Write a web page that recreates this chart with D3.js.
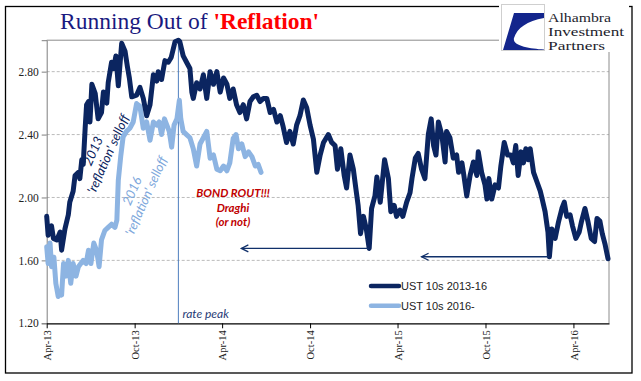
<!DOCTYPE html>
<html><head><meta charset="utf-8">
<script src="https://cdn.jsdelivr.net/npm/d3@7"></script>
<style>body{margin:0;background:#fff}svg{display:block}</style>
</head><body><svg id="c" width="641" height="381"></svg>
<script>
// ---- data ----
const seriesStart = "2013-04-01"; // x values are day offsets from this date
const darkName = "UST 10s 2013-16";
const lightName = "UST 10s 2016-";
const darkDays = [0,3,10,14,21,28,31,38,45,48,55,59,66,69,73,76,80,83,87,90,94,101,107,114,118,125,128,135,139,144,149,156,163,168,172,177,187,194,201,208,215,222,229,232,239,246,253,259,267,274,277,284,291,298,302,305,312,319,326,333,340,347,354,361,368,375,381,388,395,402,409,416,423,430,437,444,451,458,465,472,479,486,492,499,506,513,520,527,534,541,548,555,562,569,576,586,593,600,605,612,619,624,631,638,644,648,653,659,665,671,676,683,687,694,703,711,716,723,728,735,741,749,756,760,767,773,780,787,794,800,805,810,815,822,829,832,839,846,853,857,864,868,874,881,888,895,898,905,912,916,920,926,933,940,945,952,959,966,971,976,981,987,992,997,1002,1006,1013,1020,1027,1031,1037,1043,1046,1051,1058,1065,1072,1077,1082,1089,1094,1101,1108,1113,1120,1126,1133,1140,1145,1151,1156,1162,1168];
const darkVals = [1.88,1.76,1.82,1.74,1.73,1.78,1.665,1.80,1.89,1.97,2.04,2.14,2.16,2.12,2.24,2.21,2.44,2.59,2.61,2.48,2.72,2.66,2.50,2.54,2.67,2.60,2.73,2.86,2.82,2.90,2.71,2.98,2.93,2.83,2.76,2.64,2.65,2.70,2.63,2.52,2.59,2.78,2.74,2.80,2.75,2.87,2.86,2.89,2.99,3.00,2.99,2.90,2.86,2.82,2.67,2.63,2.73,2.69,2.78,2.63,2.80,2.72,2.80,2.67,2.76,2.72,2.63,2.69,2.59,2.54,2.59,2.50,2.61,2.64,2.65,2.61,2.63,2.63,2.54,2.56,2.48,2.52,2.45,2.35,2.42,2.34,2.46,2.52,2.62,2.57,2.46,2.37,2.16,2.27,2.35,2.40,2.35,2.33,2.18,2.31,2.14,2.06,2.27,2.18,2.04,1.95,1.77,1.88,1.80,1.676,1.93,2.01,2.13,1.97,2.24,2.12,1.91,1.95,1.88,1.92,1.88,1.97,2.03,2.12,2.25,2.28,2.18,2.12,2.40,2.50,2.33,2.27,2.48,2.40,2.226,2.42,2.38,2.25,2.27,2.16,2.22,2.14,2.01,2.14,2.226,2.14,2.29,2.16,2.08,1.99,2.12,1.99,2.08,2.06,2.20,2.35,2.27,2.27,2.22,2.33,2.14,2.29,2.22,2.31,2.24,2.31,2.16,2.10,2.04,1.99,1.91,1.78,1.623,1.80,1.74,1.845,1.93,1.97,1.88,1.89,1.82,1.74,1.78,1.85,1.93,1.85,1.74,1.72,1.867,1.85,1.77,1.70,1.61];
const lightDays = [0,3,7,10,15,19,24,28,31,35,40,45,50,55,61,66,71,76,82,87,92,98,104,109,114,121,128,135,142,146,149,154,159,166,173,180,187,194,198,201,208,215,222,229,234,239,245,250,255,260,265,271,276,279,284,291,298,305,312,319,326,333,340,347,354,361,368,375,381,388,394,399,406,413,420,427,434,440,446];
const lightVals = [1.686,1.58,1.71,1.56,1.62,1.454,1.37,1.39,1.38,1.58,1.50,1.60,1.454,1.58,1.50,1.56,1.58,1.60,1.58,1.665,1.58,1.71,1.66,1.56,1.73,1.79,1.81,1.83,1.81,1.856,2.11,2.26,2.385,2.42,2.44,2.48,2.597,2.58,2.50,2.44,2.48,2.364,2.48,2.46,2.48,2.40,2.50,2.46,2.42,2.32,2.46,2.50,2.618,2.50,2.42,2.40,2.38,2.31,2.20,2.34,2.38,2.42,2.25,2.27,2.18,2.17,2.20,2.17,2.22,2.375,2.40,2.31,2.34,2.26,2.29,2.26,2.20,2.21,2.16];
const xTickLabels = ["Apr-13","Oct-13","Apr-14","Oct-14","Apr-15","Oct-15","Apr-16"];
const yTickValues = [1.2,1.6,2.0,2.4,2.8];
const axisEnd = "2016-06-14";
const ratePeakDate = "2013-12-31";
const arrowLows = [{from:"2015-01-31", to:"2014-05-11", v:1.676},{from:"2016-02-11", to:"2015-05-21", v:1.623}];
const logoLines = ["Alhambra","Investment","Partners"];

// ---- scales ----
const parseISO = d3.utcParse("%Y-%m-%d");
const parseTick = d3.utcParse("%b-%y");
const t0 = parseISO(seriesStart);
const toDate = d => d3.utcDay.offset(t0, d);
const M = {l:46.7, r:609, t:40.2, b:323.3};
const x = d3.scaleUtc([t0, parseISO(axisEnd)], [M.l, M.r]);
const y = d3.scaleLinear([1.2, 3.0], [M.b, M.t]);

const svg = d3.select("#c");
const navy = "#0b2560", light = "#8db4e2";

// outer frame
svg.append("rect").attr("x",5.5).attr("y",6.5).attr("width",626.5).attr("height",366.5)
  .attr("fill","none").attr("stroke","#000").attr("stroke-width",1.3);

// gridlines
svg.append("g").selectAll("line").data(yTickValues.filter(v=>v>1.2)).join("line")
  .attr("x1",M.l).attr("x2",M.r).attr("y1",d=>y(d)).attr("y2",d=>y(d))
  .attr("stroke","#b3b3b3").attr("stroke-dasharray","3,2").attr("stroke-width",0.9);

// plot border top & right
svg.append("path").attr("d",`M${M.l},${M.t}H${M.r}V${M.b}`).attr("fill","none")
  .attr("stroke","#8c8c8c").attr("stroke-width",1);

// y axis
const yAxis = d3.axisLeft(y).tickValues(yTickValues).tickFormat(d3.format(".2f")).tickSize(5).tickPadding(3);
const gy = svg.append("g").attr("transform",`translate(${M.l},0)`).call(yAxis);
gy.select(".domain").attr("stroke","#7f7f7f");
gy.selectAll(".tick line").attr("stroke","#7f7f7f");
gy.selectAll("text").attr("font-family","'Liberation Serif', serif").attr("font-size",11.5).attr("fill","#222");

// x axis
const xTicks = xTickLabels.map(s=>parseTick(s));
const xAxis = d3.axisBottom(x).tickValues(xTicks).tickFormat(d3.utcFormat("%b-%y")).tickSize(5).tickSizeOuter(0);
const gx = svg.append("g").attr("transform",`translate(0,${M.b})`).call(xAxis);
gx.select(".domain").attr("stroke","#000").attr("stroke-width",1.2);
gx.selectAll(".tick line").attr("stroke","#000");
gx.selectAll("text").attr("font-family","'Liberation Serif', serif").attr("font-size",10.5).attr("fill","#222")
  .attr("transform","rotate(-90)").attr("text-anchor","end").attr("x",-7).attr("y",0).attr("dy","0.35em");

// rate peak line
const xp = x(parseISO(ratePeakDate));
svg.append("line").attr("x1",xp).attr("x2",xp).attr("y1",M.t).attr("y2",M.b)
  .attr("stroke","#4f7fbf").attr("stroke-width",1);
svg.append("text").attr("x",xp+4).attr("y",318).text("rate peak")
  .attr("font-family","Lato, sans-serif").attr("font-style","italic").attr("font-size",12).attr("fill","#1f3a75");

// series
const line = d3.line().x(d=>x(toDate(d[0]))).y(d=>y(d[1]));
const lightData = lightDays.map((d,i)=>[d,lightVals[i]]);
const darkData = darkDays.map((d,i)=>[d,darkVals[i]]);
svg.append("path").datum(lightData).attr("d",line).attr("fill","none").attr("stroke",light)
  .attr("stroke-width",5).attr("stroke-linejoin","round").attr("stroke-linecap","round");
svg.append("path").datum(darkData).attr("d",line).attr("fill","none").attr("stroke",navy)
  .attr("stroke-width",5).attr("stroke-linejoin","round").attr("stroke-linecap","round");

// arrows
arrowLows.forEach(a=>{
  const x1 = x(parseISO(a.from)), x2 = x(parseISO(a.to)), yy = y(a.v);
  svg.append("line").attr("x1",x1).attr("x2",x2).attr("y1",yy).attr("y2",yy)
    .attr("stroke","#10306a").attr("stroke-width",1.3);
  svg.append("path").attr("d",`M${x2+7},${yy-3.5}L${x2},${yy}L${x2+7},${yy+3.5}`)
    .attr("fill","none").attr("stroke","#10306a").attr("stroke-width",1.3);
});

// rotated annotations
function rotText(txt, cx, cy, color){
  svg.append("text").attr("transform",`translate(${cx},${cy}) rotate(-66)`)
    .attr("text-anchor","middle").attr("dy","0.35em").text(txt)
    .attr("font-family","Lato, sans-serif").attr("font-style","italic").attr("font-size",13).attr("fill",color);
}
rotText("2013", 93, 151, navy);
rotText("'reflation' selloff", 108, 154, navy);
rotText("2016", 132, 191, "#7ea8dc");
rotText("'reflation' selloff", 146, 196, "#7ea8dc");

// Bond rout annotation
const red = "#c00000";
[["BOND ROUT!!!",233,197],["Draghi",233,211.5],["(or not)",233,226]].forEach(([t,cx,cy])=>{
  svg.append("text").attr("x",cx).attr("y",cy).attr("text-anchor","middle").text(t)
    .attr("font-family","Lato, sans-serif").attr("font-style","italic").attr("font-weight","bold")
    .attr("font-size",11.5).attr("fill",red);
});

// legend
const lg = svg.append("g");
[[darkName,navy,286],[lightName,light,305.7]].forEach(([n,c,yy])=>{
  lg.append("line").attr("x1",371).attr("x2",399).attr("y1",yy).attr("y2",yy)
    .attr("stroke",c).attr("stroke-width",4.5).attr("stroke-linecap","round");
  lg.append("text").attr("x",401).attr("y",yy).attr("dy","0.35em").text(n)
    .attr("font-family","'Liberation Sans', Arial, sans-serif").attr("font-size",11).attr("fill","#222");
});

// title
const title = svg.append("text").attr("x",60).attr("y",29)
  .attr("font-family","'Liberation Serif', serif").attr("font-size",23.5);
title.append("tspan").text("Running Out of ").attr("fill","#1a1a80");
title.append("tspan").text("'Reflation'").attr("fill","#ff0000").attr("font-weight","bold");

// logo
const logo = svg.append("g");
logo.append("rect").attr("x",499).attr("y",1).attr("width",130).attr("height",51).attr("fill","#fff");
logo.append("rect").attr("x",501.5).attr("y",4.5).attr("width",43).attr("height",46)
  .attr("fill","#fff").attr("stroke","#cfcfcf").attr("stroke-width",1);
logo.append("path").attr("d","M514,13L544,13L544,18C527,21 517,28 514,38C512,46 530,48.5 544,49.5L544,50L503,50Z")
  .attr("fill","#13258c");
const logoWidths = [63,76,57];
logoLines.forEach((t,i)=>{
  logo.append("text").attr("x",548).attr("y",22 + i*13.8).text(t)
    .attr("textLength",logoWidths[i]).attr("lengthAdjust","spacingAndGlyphs")
    .attr("font-family","'Liberation Serif', serif").attr("font-size",12).attr("fill","#1e1e2e");
});
</script></body></html>
